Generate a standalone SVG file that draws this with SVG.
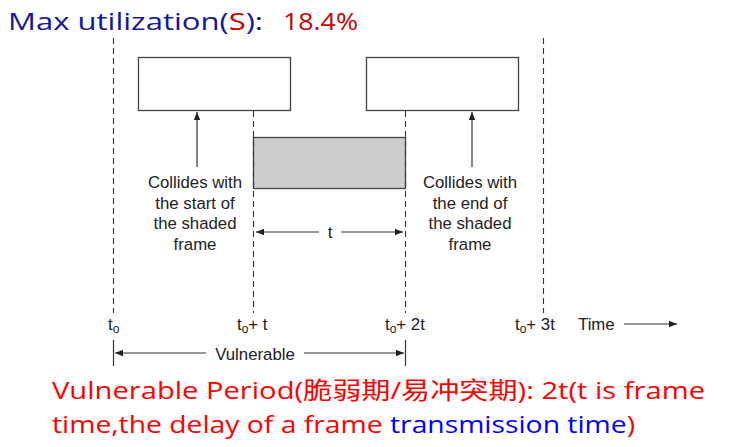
<svg xmlns="http://www.w3.org/2000/svg" width="732" height="447" viewBox="0 0 732 447">
  <style>
    .frame { fill: #ffffff; stroke: #444; stroke-width: 1.3; }
    .shaded { fill: #cdcdcd; stroke: #444; stroke-width: 1.3; }
    .dash { stroke: #333; stroke-width: 1.1; stroke-dasharray: 6 4; fill: none; }
    .line { stroke: #333; stroke-width: 1.2; fill: none; }
    .lbl { font-family: "Liberation Sans", Arial, sans-serif; font-size: 16.8px; fill: #222; }
    .mid { text-anchor: middle; }
    .title { font-family: "Open Sans", "Noto Sans", sans-serif; font-size: 23px; }
    .note { font-family: "Open Sans", "Noto Sans", "Noto Sans CJK SC", sans-serif; font-size: 23.5px; fill: #ff0000; }
  </style>
  <defs>
    <marker id="ah" viewBox="0 0 10 10" refX="10" refY="5" markerWidth="11" markerHeight="8" markerUnits="userSpaceOnUse" orient="auto">
      <path d="M0,1 L10,5 L0,9 Z" fill="#222"/>
    </marker>
  </defs>

  <!-- heading -->
  <text class="title" x="8" y="30" textLength="255" lengthAdjust="spacingAndGlyphs"><tspan fill="#16169a">Max utilization(</tspan><tspan fill="#cc0000">S</tspan><tspan fill="#16169a">):</tspan></text>
  <text class="title" x="283" y="30" fill="#cc0000" textLength="75" lengthAdjust="spacingAndGlyphs">18.4%</text>

  <!-- frames -->
  <g id="frame-left"><rect class="frame" x="138.5" y="57.5" width="152" height="53"/></g>
  <g id="frame-right"><rect class="frame" x="366.5" y="57.5" width="152" height="53"/></g>
  <g id="frame-shaded"><rect class="shaded" x="253.5" y="137.5" width="152" height="51"/></g>

  <!-- time markers -->
  <g id="markers">
    <line class="dash" x1="113.5" y1="38" x2="113.5" y2="313"/>
    <line class="dash" x1="253.5" y1="111" x2="253.5" y2="313"/>
    <line class="dash" x1="405.5" y1="111" x2="405.5" y2="313"/>
    <line class="dash" x1="543.5" y1="38" x2="543.5" y2="313"/>
  </g>

  <!-- connectors -->
  <g id="connectors">
    <line class="line" x1="197" y1="167" x2="197" y2="112" marker-end="url(#ah)"/>
    <line class="line" x1="472" y1="167" x2="472" y2="112" marker-end="url(#ah)"/>
    <line class="line" x1="319" y1="232" x2="256" y2="232" marker-end="url(#ah)"/>
    <line class="line" x1="341" y1="232" x2="403" y2="232" marker-end="url(#ah)"/>
    <line class="line" x1="206" y1="353" x2="115" y2="353" marker-end="url(#ah)"/>
    <line class="line" x1="304" y1="353" x2="404" y2="353" marker-end="url(#ah)"/>
    <line class="line" x1="113.5" y1="340" x2="113.5" y2="366"/>
    <line class="line" x1="405.5" y1="340" x2="405.5" y2="366"/>
    <line class="line" x1="624" y1="324" x2="677" y2="324" marker-end="url(#ah)"/>
  </g>

  <!-- annotations -->
  <g id="label-start">
    <text class="lbl mid" x="195" y="188">Collides with</text>
    <text class="lbl mid" x="195" y="208.5">the start of</text>
    <text class="lbl mid" x="195" y="229">the shaded</text>
    <text class="lbl mid" x="195" y="249.5">frame</text>
  </g>
  <g id="label-end">
    <text class="lbl mid" x="470" y="188">Collides with</text>
    <text class="lbl mid" x="470" y="208.5">the end of</text>
    <text class="lbl mid" x="470" y="229">the shaded</text>
    <text class="lbl mid" x="470" y="249.5">frame</text>
  </g>
  <text class="lbl mid" x="330" y="238">t</text>
  <text class="lbl mid" x="255" y="360">Vulnerable</text>

  <!-- axis labels -->
  <g id="axis-labels">
    <text class="lbl" x="108" y="330">t<tspan font-size="12" dy="3">o</tspan></text>
    <text class="lbl" x="237" y="330">t<tspan font-size="12" dy="3">o</tspan><tspan dy="-3">+ t</tspan></text>
    <text class="lbl" x="385" y="330">t<tspan font-size="12" dy="3">o</tspan><tspan dy="-3">+ 2t</tspan></text>
    <text class="lbl" x="515" y="330">t<tspan font-size="12" dy="3">o</tspan><tspan dy="-3">+ 3t</tspan></text>
    <text class="lbl" x="578" y="330">Time</text>
  </g>

  <!-- footnote -->
  <text class="note" x="52" y="399" textLength="653" lengthAdjust="spacingAndGlyphs">Vulnerable Period(脆弱期/易冲突期): 2t(t is frame</text>
  <text class="note" x="52" y="433" textLength="583" lengthAdjust="spacingAndGlyphs">time,the delay of a frame <tspan fill="#0000ff">transmission time</tspan>)</text>
</svg>
